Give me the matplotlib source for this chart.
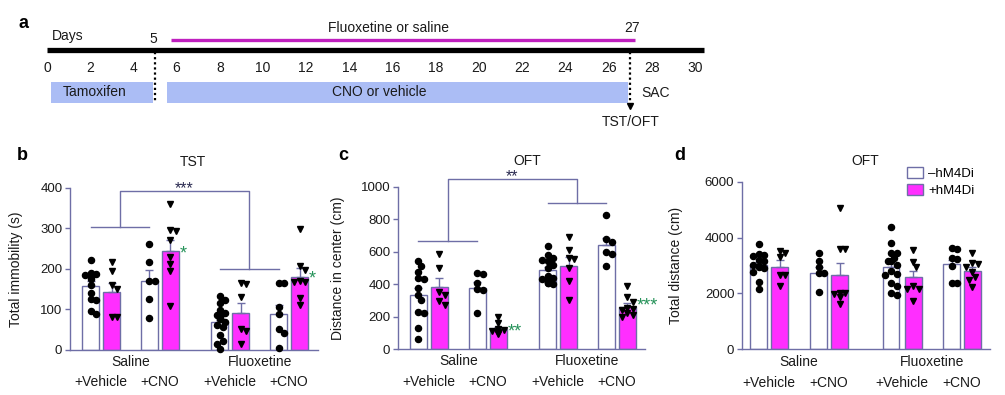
import numpy as np
import matplotlib.pyplot as plt
from matplotlib.patches import Patch
from matplotlib.transforms import blended_transform_factory

plt.rcParams['font.family'] = ['Liberation Sans', 'DejaVu Sans']

# ---- panel a: timeline (days) ----
day_ticks = list(range(0, 31, 2))
timeline_days = (0, 30.4)
tamoxifen_days = (0.2, 4.9)
cno_days = (5.55, 26.9)
fluoxetine_days = (5.75, 27.2)
start_day = 5
test_day = 27

# ---- bar groups (order: Saline+Vehicle, Saline+CNO, Fluoxetine+Vehicle, Fluoxetine+CNO;
#      within each: -hM4Di, +hM4Di) ----
groups = ["Saline", "Fluoxetine"]
treatments = ["+Vehicle", "+CNO", "+Vehicle", "+CNO"]

# b: TST total immobility (s)
tst_means = [158, 144, 170, 244, 68, 92, 88, 180]
tst_sems = [11, 22, 27, 28, 7, 23, 23, 21]
tst_points = [
    [222, 190, 188, 185, 183, 180, 175, 160, 140, 125, 122, 97, 88],
    [216, 195, 160, 150, 82, 82],
    [261, 218, 170, 170, 126, 80],
    [359, 295, 293, 271, 230, 211, 195, 109],
    [134, 123, 117, 99, 90, 86, 82, 80, 76, 70, 62, 57, 37, 23, 16, 3],
    [165, 163, 130, 52, 46, 14],
    [164, 164, 107, 88, 52, 43, 6],
    [297, 207, 197, 170, 168, 167, 129, 111],
]

# c: OFT distance in center (cm)
center_means = [334, 385, 375, 125, 487, 512, 641, 262]
center_sems = [45, 51, 40, 10, 20, 53, 46, 24]
center_points = [
    [545, 512, 473, 436, 432, 379, 334, 303, 231, 221, 133, 63],
    [584, 498, 354, 334, 299, 272],
    [471, 461, 409, 371, 364, 225],
    [200, 162, 125, 118, 112, 108, 100, 95],
    [635, 580, 560, 550, 540, 520, 500, 450, 440, 430, 420, 415, 410, 405, 400],
    [692, 610, 560, 555, 500, 420, 305],
    [826, 676, 661, 600, 586, 514],
    [391, 320, 293, 255, 250, 240, 222, 210, 200],
]

# d: OFT total distance (cm)
total_means = [3018, 2935, 2745, 2660, 2960, 2578, 3043, 2803]
total_sems = [100, 260, 215, 440, 150, 240, 160, 160]
total_points = [
    [3770, 3420, 3380, 3330, 3180, 3150, 3020, 2980, 2950, 2900, 2780, 2400, 2150],
    [3530, 3450, 3320, 2660, 2660, 2265],
    [3460, 3170, 2960, 2745, 2720, 2040],
    [5050, 3580, 3580, 2030, 2030, 1980, 1860, 1620],
    [4370, 3795, 3460, 3440, 3260, 3170, 3150, 3020, 2815, 2700, 2660, 2385, 2265, 2030, 1945],
    [3555, 3140, 2935, 2265, 2150, 2150, 1740],
    [3615, 3580, 3260, 3230, 2980, 2385, 2385],
    [3460, 3100, 3050, 2950, 2780, 2600, 2470, 2240],
]

W, H = 1005, 395
EDGE = "#6e6ea6"
MAGENTA = "#ff2eff"
BLUE_BOX = "#abbdf5"
PURPLE = "#bf1fbf"
GREEN = "#27935a"
TXT = "#1a1a1a"


def rect_px(left, top, right, bottom):
    return [left / W, 1 - bottom / H, (right - left) / W, (bottom - top) / H]


def swarm_x(ax, x0, vals, diam=5.8, max_off=7.5):
    pts = ax.transData.transform(np.column_stack([np.full(len(vals), x0), vals]))
    placed, offs = [], []
    for y in pts[:, 1]:
        best = None
        for k in range(0, 10):
            for sgn in ([0] if k == 0 else [1, -1]):
                dx = sgn * k * diam * 0.5
                if abs(dx) > max_off:
                    continue
                if all((dx - px) ** 2 + (y - py) ** 2 >= diam ** 2 for px, py in placed):
                    best = dx
                    break
            if best is not None:
                break
        if best is None:
            best = 0.0
        placed.append((best, y))
        offs.append(best)
    unit = ax.transData.transform((1, 0))[0] - ax.transData.transform((0, 0))[0]
    return x0 + np.array(offs) / unit


def draw_bars(fig, rect, xlim, ylim, yticks, pos, means, sems, points, ylabel, ylabel_x):
    ax = fig.add_axes(rect)
    ax.set_xlim(*xlim)
    ax.set_ylim(*ylim)
    for s in ["top", "right"]:
        ax.spines[s].set_visible(False)
    for s in ["left", "bottom"]:
        ax.spines[s].set_color(EDGE)
        ax.spines[s].set_linewidth(1.0)
    ax.set_xticks([])
    ax.set_yticks(yticks)
    ax.tick_params(axis="y", direction="out", length=3.5, width=1.0, color=EDGE,
                   labelsize=9.5, labelcolor=TXT, pad=2)
    colors = ["white", MAGENTA] * 4
    ax.bar(pos, means, width=0.8, color=colors, edgecolor=EDGE, linewidth=1.0, zorder=1)
    ax.errorbar(pos, means, yerr=[np.zeros(len(sems)), sems], fmt="none", ecolor=EDGE,
                elinewidth=1.0, capsize=3, capthick=1.0, zorder=2)
    for i, vals in enumerate(points):
        xs = swarm_x(ax, pos[i], vals)
        mk = "o" if i % 2 == 0 else "v"
        ax.plot(xs, vals, linestyle="none", marker=mk, ms=4.4 if mk == "o" else 5.0,
                color="black", zorder=3, clip_on=False)
    ax.set_ylabel(ylabel, fontsize=10, color=TXT)
    ax.yaxis.set_label_coords(ylabel_x, 0.5)
    tr = blended_transform_factory(ax.transData, ax.transAxes)
    ax.text(np.mean(pos[0:4]), -0.075, groups[0], transform=tr, ha="center", va="center",
            fontsize=10, color=TXT)
    ax.text(np.mean(pos[4:8]), -0.075, groups[1], transform=tr, ha="center", va="center",
            fontsize=10, color=TXT)
    for j in range(4):
        ax.text((pos[2 * j] + pos[2 * j + 1]) / 2, -0.2, treatments[j], transform=tr,
                ha="center", va="center", fontsize=10, color=TXT)
    return ax


def bracket(ax, pos, low1, low2, top, stars):
    m1 = (pos[0] + pos[2]) / 2
    m2 = (pos[4] + pos[6]) / 2
    kw = dict(color=EDGE, lw=1.0, clip_on=False)
    ax.plot([pos[0], pos[2]], [low1, low1], **kw)
    ax.plot([pos[4], pos[6]], [low2, low2], **kw)
    ax.plot([m1, m1, m2, m2], [low1, top, top, low2], **kw)
    ax.annotate(stars, ((m1 + m2) / 2, top), xytext=(0, -1.5), textcoords="offset points",
                ha="center", va="baseline", fontsize=11.5, color="#2a2a50",
                annotation_clip=False)


def green_star(ax, x, y, stars, dy=-5.5):
    ax.annotate(stars, (x + 0.45, y), xytext=(0, dy), textcoords="offset points",
                ha="left", va="baseline", fontsize=13, color=GREEN, annotation_clip=False)


fig = plt.figure(figsize=(W / 100, H / 100), dpi=100)

# ---- panel a ----
x0_px, day_px = 47, 21.6
ax_a = fig.add_axes(rect_px(0, 0, W, 140))
ax_a.set_xlim(-x0_px / day_px, (W - x0_px) / day_px)
ax_a.set_ylim(140, 0)
ax_a.axis("off")
ax_a.plot(timeline_days, [50, 50], color="black", lw=3.8, solid_capstyle="butt")
ax_a.plot(fluoxetine_days, [40, 40], color=PURPLE, lw=2.4, solid_capstyle="butt")
ax_a.barh(92.5, tamoxifen_days[1] - tamoxifen_days[0], left=tamoxifen_days[0], height=21,
          color=BLUE_BOX)
ax_a.barh(92.5, cno_days[1] - cno_days[0], left=cno_days[0], height=21, color=BLUE_BOX)
for d in day_ticks:
    ax_a.text(d, 68, str(d), ha="center", va="center", fontsize=10, color=TXT)
ax_a.plot([start_day, start_day], [52, 103], color="black", lw=1.6, linestyle=(0, (1, 1.3)))
ax_a.plot([test_day, test_day], [52, 103], color="black", lw=1.6, linestyle=(0, (1, 1.3)))
ax_a.plot([test_day], [106], marker="v", ms=5, color="black")
ax_a.text(0.23, 36, "Days", ha="left", va="center", fontsize=10, color=TXT)
ax_a.text(start_day - 0.1, 39, str(start_day), ha="center", va="center", fontsize=10, color=TXT)
ax_a.text(test_day + 0.1, 28, str(test_day), ha="center", va="center", fontsize=10, color=TXT)
ax_a.text(15.8, 28, "Fluoxetine or saline", ha="center", va="center", fontsize=10, color=TXT)
ax_a.text(2.2, 92, "Tamoxifen", ha="center", va="center", fontsize=10, color=TXT)
ax_a.text(15.4, 92, "CNO or vehicle", ha="center", va="center", fontsize=10, color=TXT)
ax_a.text(test_day + 0.5, 93, "SAC", ha="left", va="center", fontsize=10, color=TXT)
ax_a.text(test_day, 122, "TST/OFT", ha="center", va="center", fontsize=10, color=TXT)

# ---- panels b, c, d ----
pos_bc = [0, 1, 2.8, 3.8, 6.15, 7.15, 8.95, 9.95]
pos_d = [0, 1, 2.86, 3.86, 6.31, 7.36, 9.19, 10.17]

ax_b = draw_bars(fig, rect_px(70, 187.7, 318, 350), (-0.976, 10.83), (0, 400),
                 range(0, 401, 100), pos_bc, tst_means, tst_sems, tst_points,
                 "Total immobility (s)", -0.19)
bracket(ax_b, pos_bc, 304, 200, 392, "***")
green_star(ax_b, pos_bc[3], tst_means[3], "*", dy=-5.5)
green_star(ax_b, pos_bc[7], tst_means[7], "*", dy=-5)

ax_c = draw_bars(fig, rect_px(398, 186.7, 645, 349.3), (-0.976, 10.79), (0, 1000),
                 range(0, 1001, 200), pos_bc, center_means, center_sems, center_points,
                 "Distance in center (cm)", -0.215)
bracket(ax_c, pos_bc, 667, 897, 1045, "**")
green_star(ax_c, pos_bc[3], center_means[3], "**", dy=-5.5)
green_star(ax_c, pos_bc[7], center_means[7], "***", dy=-2.5)

ax_d = draw_bars(fig, rect_px(742, 181.7, 990, 349.3), (-0.786, 11.02), (0, 6000),
                 range(0, 6001, 2000), pos_d, total_means, total_sems, total_points,
                 "Total distance (cm)", -0.238)
handles = [Patch(facecolor="white", edgecolor=EDGE, linewidth=1.0),
           Patch(facecolor=MAGENTA, edgecolor=EDGE, linewidth=1.0)]
ax_d.legend(handles, ["\u2013hM4Di", "+hM4Di"], loc="upper left",
            bbox_to_anchor=((907 - 742) / 248, (349.3 - 167) / 167.6), frameon=False,
            fontsize=9.5, handlelength=1.2, handleheight=0.9, handletextpad=0.4,
            borderpad=0, borderaxespad=0, labelspacing=0.3)

# titles and panel letters
fig.text(193 / W, 1 - 162 / H, "TST", ha="center", va="center", fontsize=10, color=TXT)
fig.text(527 / W, 1 - 161 / H, "OFT", ha="center", va="center", fontsize=10, color=TXT)
fig.text(865 / W, 1 - 161 / H, "OFT", ha="center", va="center", fontsize=10, color=TXT)
for letter, (px, py) in zip("abcd", [(23, 23), (22, 155), (343, 155), (680, 155)]):
    fig.text(px / W, 1 - py / H, letter, ha="center", va="center", fontsize=13,
             fontweight="bold", color="black")

fig.savefig("out.png", dpi=100)
plt.close(fig)
